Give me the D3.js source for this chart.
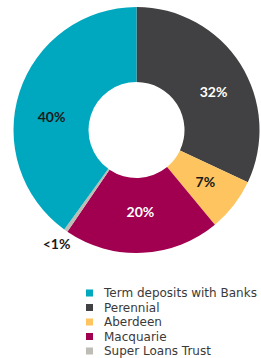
<!DOCTYPE html>
<html>
<head>
<meta charset="utf-8">
<script src="https://cdnjs.cloudflare.com/ajax/libs/d3/7.8.5/d3.min.js"></script>
<style>
  html, body { margin: 0; padding: 0; background: #fff; }
  svg { display: block; }
</style>
</head>
<body>
<svg id="chart"></svg>
<script>
// data
const categories = ['Perennial', 'Aberdeen', 'Macquarie', 'Super Loans Trust', 'Term deposits with Banks'];
const shares = [32, 7, 20.5, 0.5, 40];
const sliceLabels = ['32%', '7%', '20%', '<1%', '40%'];
const legendOrder = ['Term deposits with Banks', 'Perennial', 'Aberdeen', 'Macquarie', 'Super Loans Trust'];

const colours = {
  'Term deposits with Banks': '#00a8bf',
  'Perennial': '#414042',
  'Aberdeen': '#fdc45f',
  'Macquarie': '#a0004f',
  'Super Loans Trust': '#bdbcb5'
};
const labelInk = {
  'Term deposits with Banks': '#1a1a1a',
  'Perennial': '#ffffff',
  'Aberdeen': '#1a1a1a',
  'Macquarie': '#ffffff',
  'Super Loans Trust': '#1a1a1a'
};

const W = 261, H = 358,
  cx = 136.5, cy = 130, outerR = 123, innerR = 48;

const $svg = d3.select('#chart').attr('width', W).attr('height', H);
const rows = categories.map((c, i) => ({ name: c, value: shares[i], label: sliceLabels[i] }));

const pie = d3.pie().sort(null).value((d) => d.value),
  arcs = pie(rows),
  arc = d3.arc().innerRadius(innerR).outerRadius(outerR);

const $g = $svg.append('g').attr('transform', 'translate(' + cx + ',' + cy + ')');
$g.selectAll('path')
  .data(arcs)
  .enter()
  .append('path')
  .attr('d', arc)
  .attr('fill', (d) => colours[d.data.name]);

// label placement: inside the ring, the tiny slice gets its label outside
const labelNudge = { 'Perennial': 6, 'Term deposits with Banks': -9, 'Aberdeen': -1 };
const labelPos = (d) => {
  const small = d.data.value < 1,
    r = small ? 139 : (d.data.name == 'Macquarie' ? 82 : 86),
    a = (d.startAngle + d.endAngle) / 2 + (labelNudge[d.data.name] || 0) * Math.PI / 180;
  return [Math.sin(a) * r, -Math.cos(a) * r];
};
$g.selectAll('text')
  .data(arcs)
  .enter()
  .append('text')
  .attr('x', (d) => labelPos(d)[0])
  .attr('y', (d) => labelPos(d)[1])
  .attr('dy', '0.36em')
  .attr('text-anchor', 'middle')
  .attr('font-family', 'Lato, "Open Sans", sans-serif')
  .attr('font-weight', 700)
  .attr('font-size', 14)
  .attr('fill', (d) => labelInk[d.data.name])
  .text((d) => d.data.label);

// legend
const legendY = d3.scalePoint().domain(legendOrder).range([293, 351]);
const $legend = $svg.append('g');
$legend.selectAll('rect')
  .data(legendOrder)
  .enter()
  .append('rect')
  .attr('x', 86)
  .attr('y', (d) => legendY(d) - 3.5)
  .attr('width', 7)
  .attr('height', 7)
  .attr('fill', (d) => colours[d]);
$legend.selectAll('text')
  .data(legendOrder)
  .enter()
  .append('text')
  .attr('x', 104)
  .attr('y', (d) => legendY(d))
  .attr('dy', '0.36em')
  .attr('font-family', '"DejaVu Sans", sans-serif')
  .attr('font-size', 12)
  .attr('fill', '#3a3a3a')
  .text((d) => d);
</script>
</body>
</html>
